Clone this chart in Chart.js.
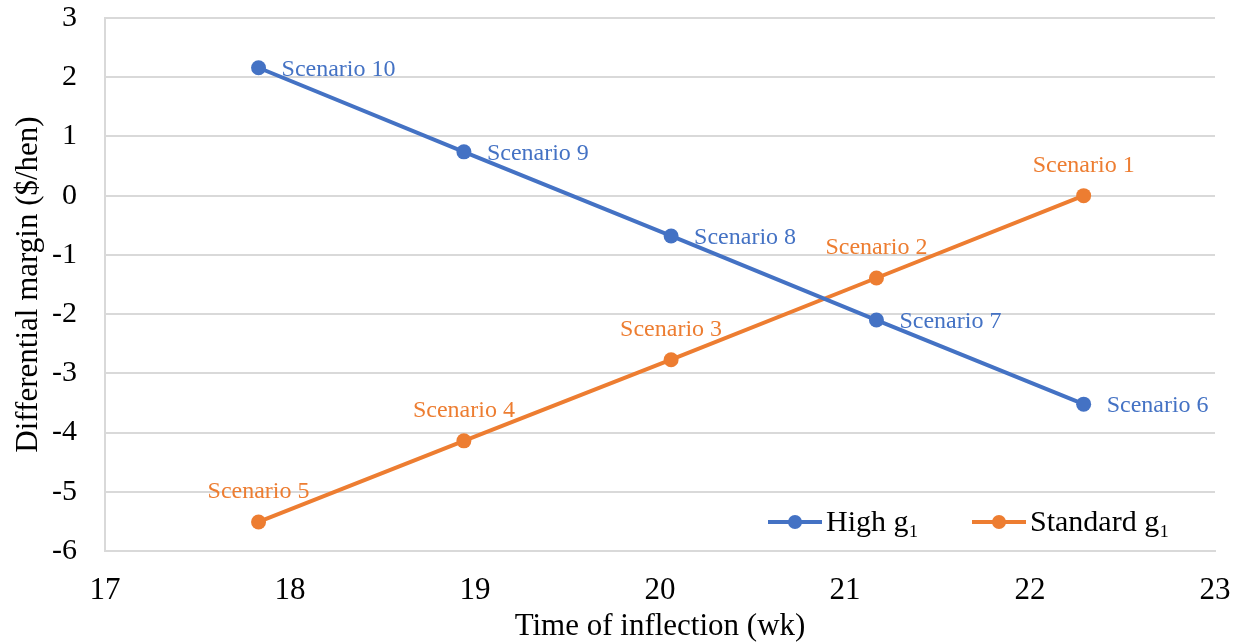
<!DOCTYPE html>
<html>
<head>
<meta charset="utf-8">
<script src="https://cdn.jsdelivr.net/npm/chart.js@4/dist/chart.umd.min.js"></script>
<style>
  html, body { margin: 0; padding: 0; background: #fff; }
  #wrap { width: 1240px; height: 642px; }
</style>
</head>
<body>
<div id="wrap"><canvas id="chart" width="1240" height="642"></canvas></div>
<script>
const HIGH_X = [17.83, 18.94, 20.06, 21.17, 22.29];
const HIGH_Y = [2.16, 0.74, -0.68, -2.10, -3.52];
const HIGH_LABELS = ['Scenario 10', 'Scenario 9', 'Scenario 8', 'Scenario 7', 'Scenario 6'];

const STD_X = [17.83, 18.94, 20.06, 21.17, 22.29];
const STD_Y = [-5.51, -4.14, -2.77, -1.39, 0.0];
const STD_LABELS = ['Scenario 5', 'Scenario 4', 'Scenario 3', 'Scenario 2', 'Scenario 1'];

const SERIES_NAMES = ['High g\u2081', 'Standard g\u2081'];
const BLUE = '#4472c4';
const ORANGE = '#ed7d31';
const GRID = '#d9d9d9';
const FONT = '"Liberation Serif", "Times New Roman", serif';

const toPoints = (xs, ys) => xs.map((x, i) => ({ x, y: ys[i] }));

// scenario names next to each point: blue to the right, orange above
const pointLabels = {
  id: 'pointLabels',
  afterDatasetsDraw(chart) {
    const ctx = chart.ctx;
    ctx.save();
    ctx.font = `24px ${FONT}`;
    chart.data.datasets.forEach((ds, di) => {
      const meta = chart.getDatasetMeta(di);
      meta.data.forEach((pt, i) => {
        ctx.fillStyle = ds.borderColor;
        ctx.textBaseline = 'middle';
        if (ds.labelPos === 'right') {
          ctx.textAlign = 'left';
          ctx.fillText(ds.labels[i], pt.x + 23, pt.y + 2);
        } else {
          ctx.textAlign = 'center';
          ctx.fillText(ds.labels[i], pt.x, pt.y - 30);
        }
      });
    });
    ctx.restore();
  }
};

// legend box sitting inside the plot, bottom right
const insideLegend = {
  id: 'insideLegend',
  afterDraw(chart) {
    const ctx = chart.ctx;
    const area = chart.chartArea;
    const y = area.bottom - 29;
    ctx.save();
    ctx.fillStyle = '#fff';
    ctx.fillRect(760, y - 24, area.right - 762, 46);
    ctx.font = `30px ${FONT}`;
    ctx.textBaseline = 'middle';
    ctx.textAlign = 'left';
    let x = 768;
    chart.data.datasets.forEach((ds) => {
      ctx.strokeStyle = ds.borderColor;
      ctx.lineWidth = 4;
      ctx.beginPath();
      ctx.moveTo(x, y);
      ctx.lineTo(x + 54, y);
      ctx.stroke();
      ctx.fillStyle = ds.borderColor;
      ctx.beginPath();
      ctx.arc(x + 27, y, 7, 0, Math.PI * 2);
      ctx.fill();
      ctx.fillStyle = '#000';
      ctx.fillText(ds.label, x + 58, y + 1);
      x = 972;
    });
    ctx.restore();
  }
};

new Chart(document.getElementById('chart'), {
  type: 'line',
  data: {
    datasets: [
      {
        label: SERIES_NAMES[0],
        data: toPoints(HIGH_X, HIGH_Y),
        labels: HIGH_LABELS,
        labelPos: 'right',
        borderColor: BLUE,
        backgroundColor: BLUE,
      },
      {
        label: SERIES_NAMES[1],
        data: toPoints(STD_X, STD_Y),
        labels: STD_LABELS,
        labelPos: 'above',
        borderColor: ORANGE,
        backgroundColor: ORANGE,
      },
    ],
  },
  options: {
    responsive: false,
    animation: false,
    devicePixelRatio: 1,
    layout: { padding: { top: 18, right: 25, left: 10, bottom: 0 } },
    elements: {
      line: { borderWidth: 4, tension: 0 },
      point: { radius: 7.5, hoverRadius: 7.5, borderWidth: 0 },
    },
    plugins: {
      legend: { display: false },
      tooltip: { enabled: false },
    },
    scales: {
      x: {
        type: 'linear',
        min: 17,
        max: 23,
        ticks: { stepSize: 1, color: '#000', font: { family: FONT, size: 31 }, padding: 13 },
        grid: { display: false },
        border: { display: true, color: GRID, width: 2 },
        title: {
          display: true,
          text: 'Time of inflection (wk)',
          color: '#000',
          font: { family: FONT, size: 31 },
          padding: { top: 0, bottom: -3 },
        },
        afterFit: (s) => {
          s.height = 91;
          s.paddingLeft = 0;
          s.paddingRight = 0;
        },
      },
      y: {
        min: -6,
        max: 3,
        ticks: { stepSize: 1, color: '#000', font: { family: FONT, size: 30 }, padding: 28 },
        grid: { color: GRID, lineWidth: 2, drawTicks: false },
        border: { display: true, color: GRID, width: 2 },
        title: {
          display: true,
          text: 'Differential margin ($/hen)',
          color: '#000',
          font: { family: FONT, size: 31 },
          padding: { top: 0, bottom: 0 },
        },
        afterFit: (s) => {
          s.width = 95;
          s.paddingTop = 0;
          s.paddingBottom = 0;
        },
      },
    },
  },
  plugins: [pointLabels, insideLegend],
});
</script>
</body>
</html>
